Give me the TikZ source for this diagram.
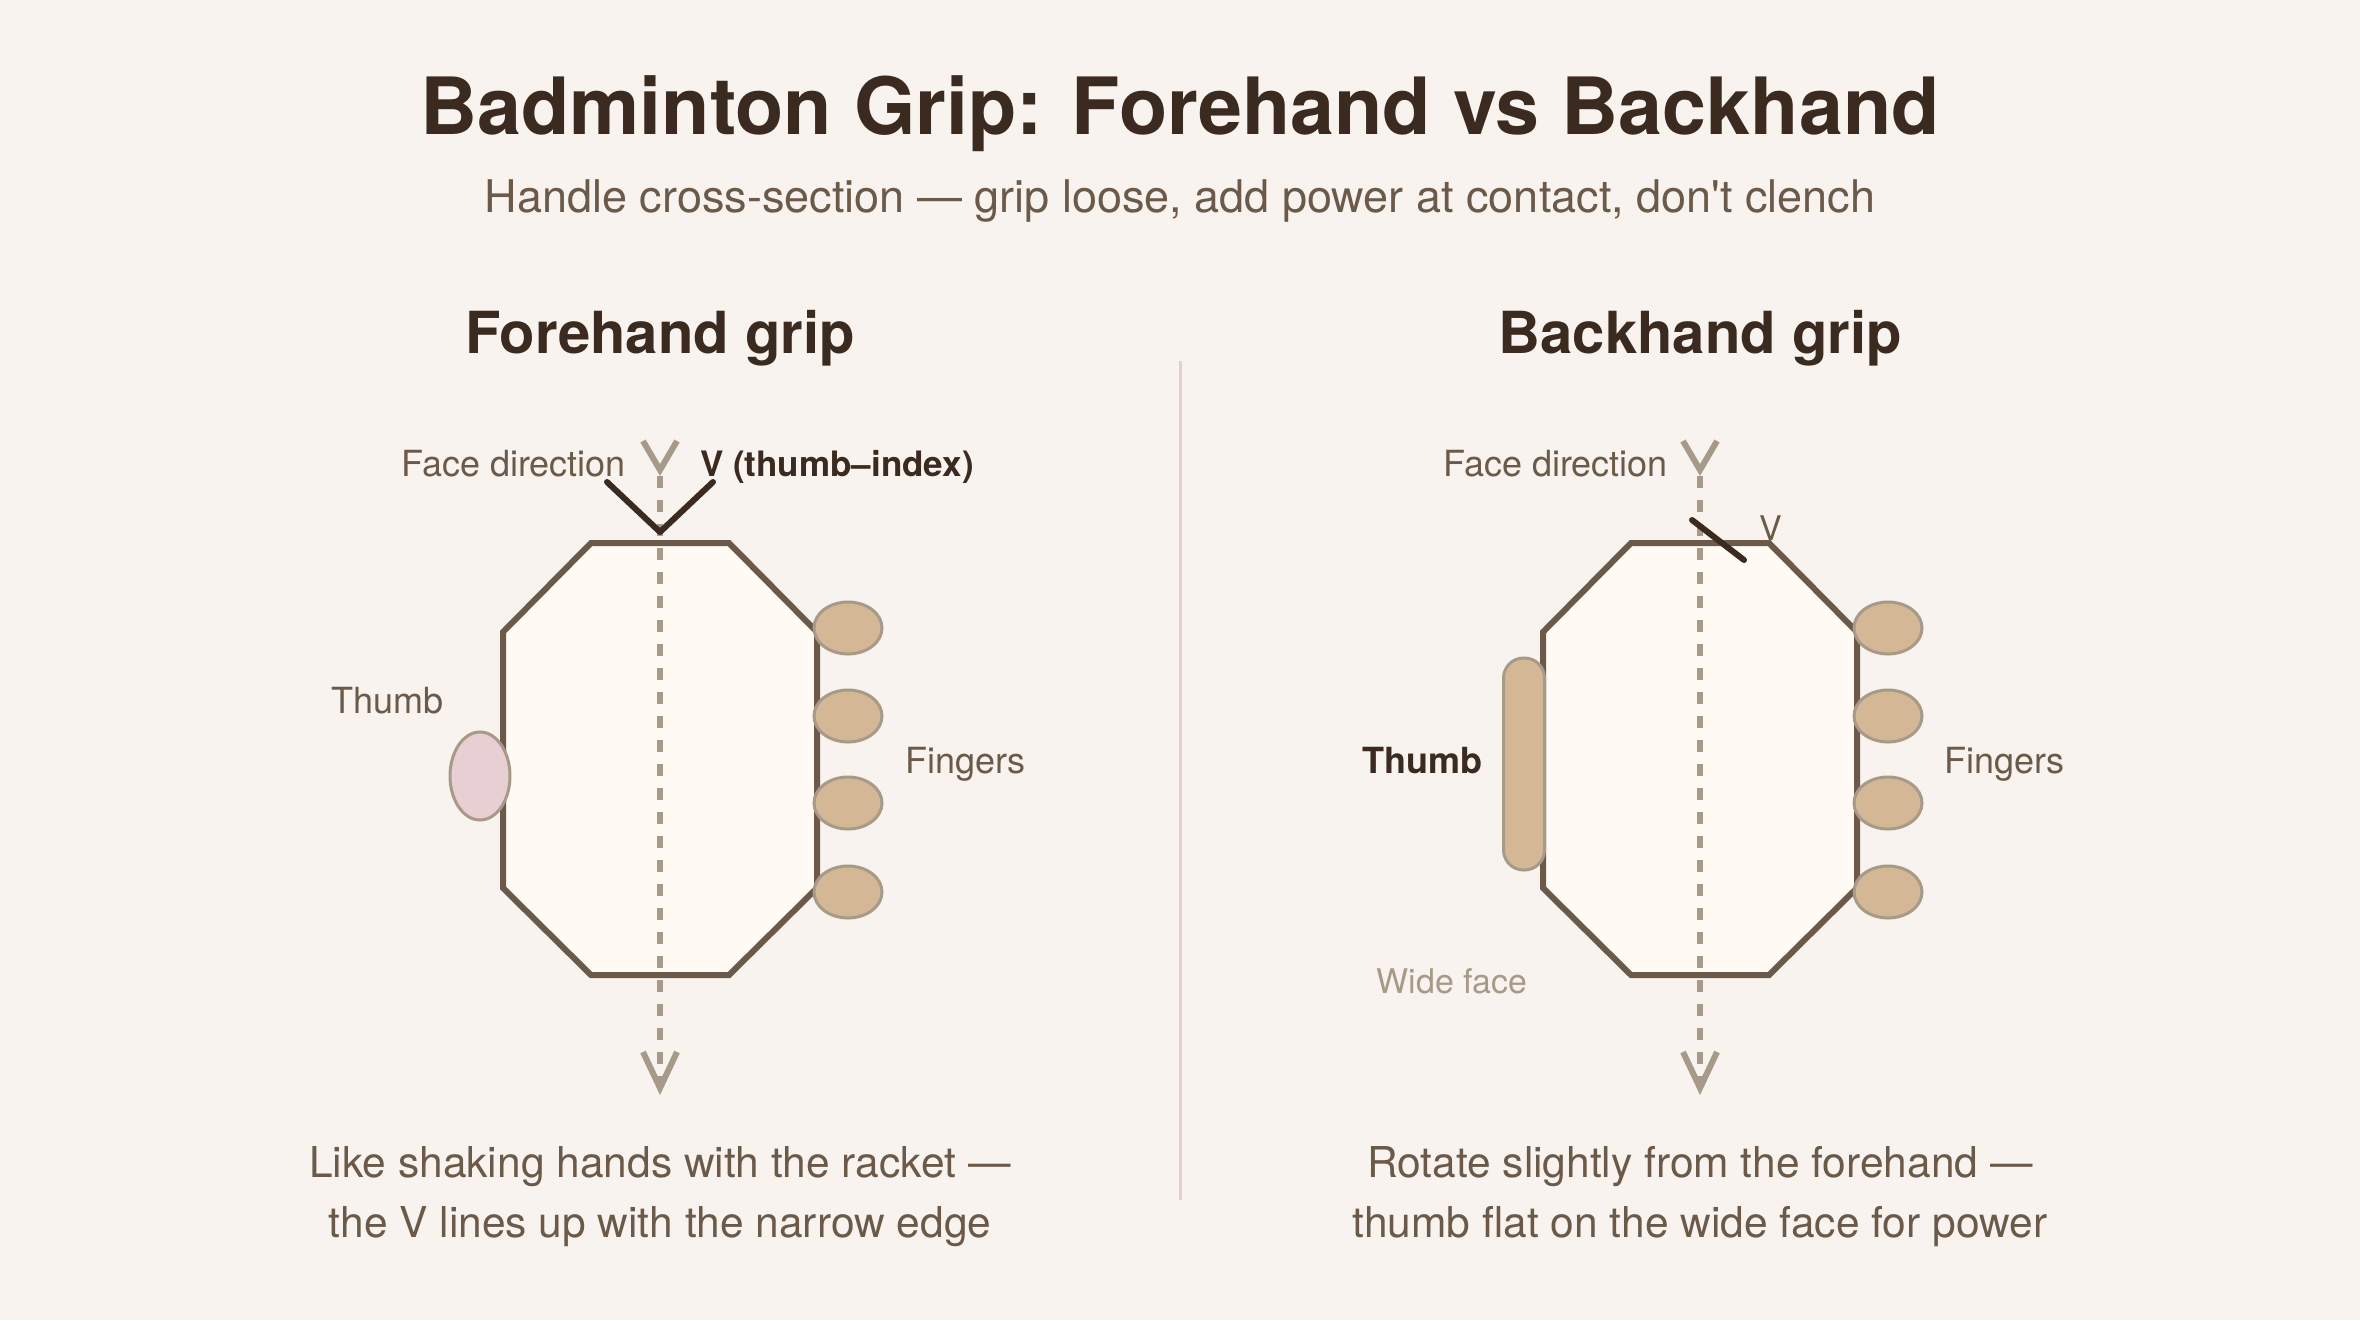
\documentclass[tikz,border=0pt]{standalone}
\usepackage{fontspec}
\setmainfont{TeX Gyre Heros}
\newfontfamily\plainq{TeX Gyre Heros}[Ligatures=TeXOff]
\usetikzlibrary{shapes.geometric}
\definecolor{bg}{HTML}{F8F3EE}
\definecolor{ink}{HTML}{3A2A20}
\definecolor{mid}{HTML}{6B5A4A}
\definecolor{light}{HTML}{A89A88}
\definecolor{handle}{HTML}{FFFAF3}
\definecolor{skin}{HTML}{D4B896}
\definecolor{pinkthumb}{HTML}{E8CFD3}
\definecolor{divider}{HTML}{E6CFCB}
\begin{document}
\begin{tikzpicture}[x=1pt,y=-1pt,
  txt/.style={inner sep=0pt, anchor=base},
  lbl/.style={txt, font=\fontsize{36}{43}\selectfont, text=mid},
  boldlbl/.style={txt, font=\fontsize{36}{43}\selectfont\bfseries, text=ink},
  caption/.style={txt, font=\fontsize{42.5}{50}\selectfont, text=mid},
  heading/.style={txt, font=\fontsize{58}{68}\selectfont\bfseries, text=ink},
  handlebox/.style={draw=mid, fill=handle, line width=6pt, line join=miter},
  finger/.style={ellipse, draw=light, fill=skin, line width=3pt, minimum width=68pt, minimum height=52pt, inner sep=0pt},
  axis/.style={draw=light, line width=5.5pt, dash pattern=on 12pt off 12pt, dash phase=18pt},
  tipmark/.style={draw=light, line width=6pt, line join=miter},
  vmark/.style={draw=ink, line width=6pt, line cap=round, line join=round}]
\fill[bg] (0,0) rectangle (2360,1320);
\useasboundingbox (0,0) rectangle (2360,1320);

% titles
\node[txt, font=\fontsize{79}{90}\selectfont\bfseries, text=ink] (title) at (1180,134) {Badminton Grip: Forehand vs Backhand};
\node[txt, font=\fontsize{45}{52}\selectfont, text=mid] (subtitle) at (1180,212) {Handle cross-section — grip loose, add power at contact, don{\plainq '}t clench};

% divider
\coordinate (divtop) at (1180,361);
\coordinate (divbot) at (1180,1200);
\draw[divider, line width=3pt] (divtop) -- (divbot);

% ---------------- Forehand ----------------
\node[heading] (fhhead) at (660,353) {Forehand grip};
\draw[handlebox] (591,543) -- (729,543) -- (817,632) -- (817,888) -- (729,975) -- (591,975) -- (503,888) -- (503,632) -- cycle;
\node[finger] (fhf1) at (848,628) {};
\node[finger] (fhf2) at (848,716) {};
\node[finger] (fhf3) at (848,803) {};
\node[finger] (fhf4) at (848,892) {};
\node[ellipse, draw=light, fill=pinkthumb, line width=3pt, minimum width=60pt, minimum height=88pt, inner sep=0pt] (fhthumb) at (480,776) {};
\coordinate (fhtop) at (660,470);
\coordinate (fhbot) at (660,1086);
\draw[axis] (fhtop) -- (fhbot);
\draw[tipmark] ([xshift=-17pt,yshift=29pt]fhtop) -- (fhtop) -- ([xshift=17pt,yshift=29pt]fhtop);
\draw[tipmark] ([xshift=-17pt,yshift=34pt]fhbot) -- ([yshift=-2pt]fhbot) -- ([xshift=17pt,yshift=34pt]fhbot);
\draw[vmark] (607,482) -- (660,532) -- (713,482);
\node[lbl, anchor=base east] (fhface) at (626,476) {Face direction};
\node[boldlbl, font=\fontsize{35}{42}\selectfont\bfseries, anchor=base west] (fhv) at (700,476) {V (thumb–index)};
\node[lbl, anchor=base east] (fhthumbl) at (444,713) {Thumb};
\node[lbl, anchor=base west] (fhfing) at (905,773) {Fingers};
\node[caption] (fhcap1) at (660,1177) {Like shaking hands with the racket —};
\node[caption] (fhcap2) at (660,1237) {the V lines up with the narrow edge};

% ---------------- Backhand ----------------
\node[heading] (bhhead) at (1700,353) {Backhand grip};
\draw[handlebox] (1631,543) -- (1769,543) -- (1857,632) -- (1857,888) -- (1769,975) -- (1631,975) -- (1543,888) -- (1543,632) -- cycle;
\node[finger] (bhf1) at (1888,628) {};
\node[finger] (bhf2) at (1888,716) {};
\node[finger] (bhf3) at (1888,803) {};
\node[finger] (bhf4) at (1888,892) {};
\node[rectangle, rounded corners=20pt, draw=light, fill=skin, line width=3pt, minimum width=41pt, minimum height=212pt, inner sep=0pt] (bhthumb) at (1524,764) {};
\coordinate (bhtop) at (1700,470);
\coordinate (bhbot) at (1700,1086);
\draw[axis] (bhtop) -- (bhbot);
\draw[tipmark] ([xshift=-17pt,yshift=29pt]bhtop) -- (bhtop) -- ([xshift=17pt,yshift=29pt]bhtop);
\draw[tipmark] ([xshift=-17pt,yshift=34pt]bhbot) -- ([yshift=-2pt]bhbot) -- ([xshift=17pt,yshift=34pt]bhbot);
\draw[vmark] (1692,520) -- (1744,560);
\node[lbl, anchor=base east] (bhface) at (1668,476) {Face direction};
\node[lbl, font=\fontsize{34}{40}\selectfont] (bhv) at (1771,540) {V};
\node[boldlbl, anchor=base east] (bhthumbl) at (1483,773) {Thumb};
\node[lbl, text=light, font=\fontsize{34}{40}\selectfont] (bhwide) at (1452,993) {Wide face};
\node[lbl, anchor=base west] (bhfing) at (1944,773) {Fingers};
\node[caption] (bhcap1) at (1700,1177) {Rotate slightly from the forehand —};
\node[caption] (bhcap2) at (1700,1237) {thumb flat on the wide face for power};
\end{tikzpicture}
\end{document}
